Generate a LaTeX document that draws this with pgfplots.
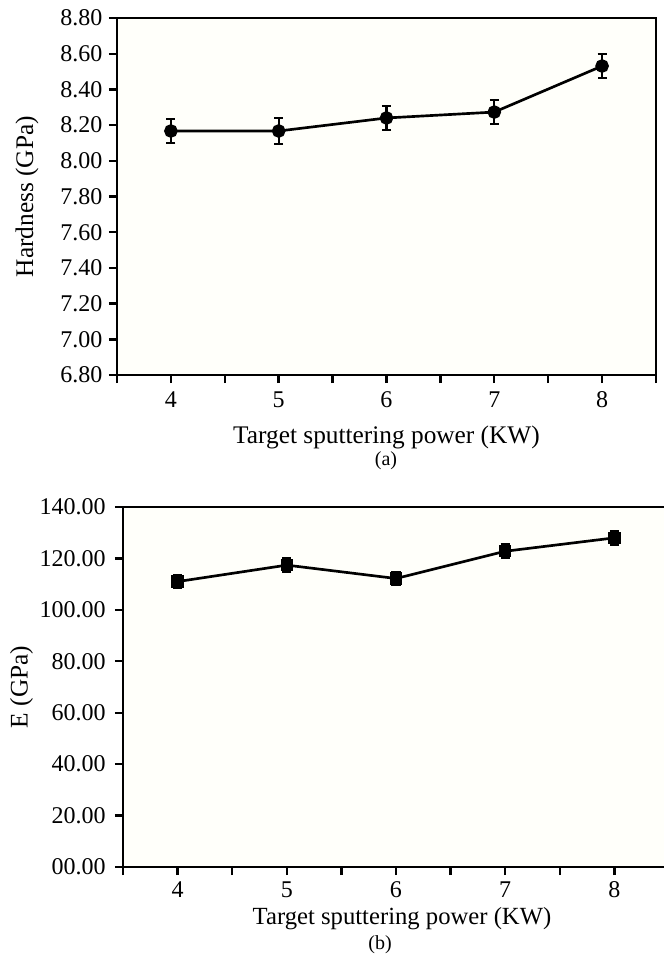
\documentclass[border=0pt]{standalone}
\usepackage{fontspec}
\setmainfont{Liberation Serif}
\usepackage{pgfplots}
\pgfplotsset{compat=1.18}

% shared look of both panels (1 px of the reference = 0.75pt)
\pgfplotsset{
  panel/.style={
    scale only axis,
    anchor=south west,
    axis line style={line width=2.2pt},
    tick style={line width=1.8pt, black},
    major tick length=6pt,
    minor tick length=6pt,
    tick align=outside,
    tick pos=left,
    xmin=3.5, xmax=8.5,
    xtick={4,5,6,7,8},
    minor xtick={3.5,4.5,5.5,6.5,7.5,8.5},
    tick label style={font=\fontsize{18}{18}\selectfont},
    label style={font=\fontsize{19}{21}\selectfont},
    /pgf/number format/assume math mode=true,
    axis background/.style={fill=yellow!2},
    clip=false,
  },
}

\begin{document}
\begin{tikzpicture}
% (a) hardness
\begin{axis}[panel,
    at={(87.75pt,-281.25pt)},
    width=404.25pt, height=267.75pt,
    ymin=6.8, ymax=8.8,
    ytick={6.8,7.0,...,8.81},
    xticklabel style={yshift=-3pt},
    yticklabel style={xshift=-1.5pt,/pgf/number format/.cd,fixed,fixed zerofill,precision=2},
    xlabel={Target sputtering power (KW)},
    ylabel={Hardness (GPa)},
    xlabel style={at={(axis description cs:0.5,-0.174)},anchor=center},
    ylabel style={at={(axis description cs:-0.167,0.5)},anchor=center},
]
\addplot[black, line width=2pt, mark=*, mark size=4.1pt,
  error bars/.cd, y dir=both, y explicit,
  error bar style={line width=1.6pt},
  error mark options={rotate=90, line width=1.6pt, mark size=3.4pt}]
  coordinates {
  (4,8.167) +- (0,0.068)
  (5,8.167) +- (0,0.072)
  (6,8.240) +- (0,0.068)
  (7,8.273) +- (0,0.066)
  (8,8.531) +- (0,0.067)
};
\end{axis}

% (b) elastic modulus
\begin{axis}[panel,
    at={(92.25pt,-650.25pt)},
    width=409.5pt, height=270pt,
    ymin=0, ymax=140,
    ytick={0,20,...,140},
    yticklabels={00.00,20.00,40.00,60.00,80.00,100.00,120.00,140.00},
    xticklabel style={inner sep=1pt, yshift=-4pt},
    yticklabel style={xshift=-3.5pt},
    xlabel={Target sputtering power (KW)},
    ylabel={E (GPa)},
    xlabel style={at={(axis description cs:0.511,-0.142)},anchor=center,
      inner sep=0pt, font=\fontsize{18.5}{20}\selectfont},
    ylabel style={at={(axis description cs:-0.186,0.5)},anchor=center},
]
\addplot[black, line width=2pt, mark=square*, mark size=3.6pt,
  error bars/.cd, y dir=both, y explicit,
  error bar style={line width=1.6pt},
  error mark options={rotate=90, line width=1.6pt, mark size=3.4pt}]
  coordinates {
  (4,111.0) +- (0,2.6)
  (5,117.4) +- (0,2.6)
  (6,112.2) +- (0,2.6)
  (7,122.8) +- (0,2.6)
  (8,128.0) +- (0,2.6)
};
\end{axis}

\node[font=\fontsize{15}{15}\selectfont] at (289.5pt,-345.75pt) {(a)};
\node[font=\fontsize{15}{15}\selectfont, inner sep=0.5pt] at (285pt,-708.75pt) {(b)};

\pgfresetboundingbox
\useasboundingbox (0pt,0pt) rectangle (498pt,-720.75pt);
\end{tikzpicture}
\end{document}
